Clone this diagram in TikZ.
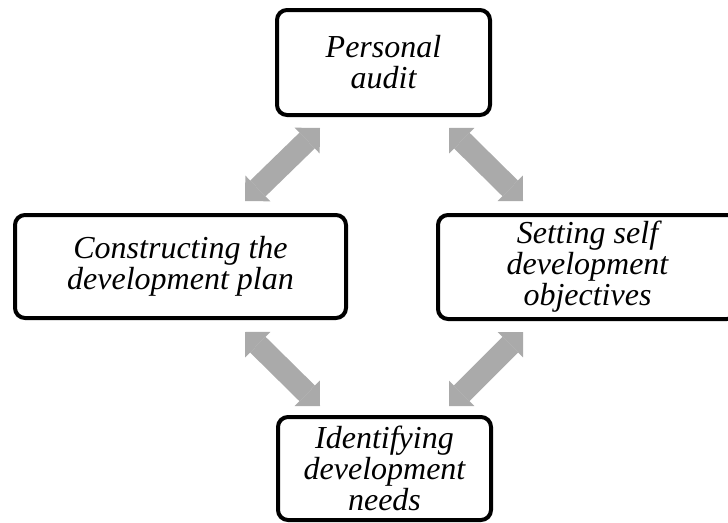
\documentclass[tikz,border=0pt]{standalone}
\usepackage{fontspec}
\setmainfont{Liberation Serif}
\usetikzlibrary{arrows.meta,calc}
\definecolor{arrowgray}{HTML}{AAAAAA}
\tikzset{
  stagebox/.style={draw=black, line width=4pt, rounded corners=10pt, fill=white,
    align=center, inner sep=0pt, font=\fontsize{32}{31}\selectfont\itshape},
  bighead/.tip={Triangle[length=18pt,width=36pt,line width=0pt]},
  link/.style={draw=arrowgray, line width=22pt, {bighead}-{bighead}},
}
\begin{document}
\begin{tikzpicture}[x=1pt,y=-1pt]
\useasboundingbox (0,0) rectangle (728,522);
\clip (0,0) rectangle (728,522);

% the four stages of the cycle
\node[stagebox, minimum width=213pt, minimum height=105pt] (audit) at (383.5,62.5) {Personal\\audit};
\node[stagebox, minimum width=331pt, minimum height=103pt] (plan) at (180.5,266.5) {Constructing the\\development plan};
\node[stagebox, minimum width=299pt, minimum height=104pt] (objectives) at (587.5,267) {Setting self\\development\\objectives};
\node[stagebox, minimum width=213pt, minimum height=103pt] (needs) at (384.5,468.5) {Identifying\\development\\needs};

% end points of the two-way links
\coordinate (a1top) at ($(audit.south west)+(45,11)$);
\coordinate (a1bot) at ($(plan.north east)+(-103,-12)$);
\coordinate (a2top) at ($(audit.south east)+(-43,11)$);
\coordinate (a2bot) at ($(objectives.north west)+(87,-12)$);
\coordinate (a3top) at ($(plan.south east)+(-103,12)$);
\coordinate (a3bot) at ($(needs.north west)+(44,-9)$);
\coordinate (a4top) at ($(objectives.south west)+(87,11)$);
\coordinate (a4bot) at ($(needs.north east)+(-44,-9)$);

\draw[link] (a1bot) -- (a1top);
\draw[link] (a2top) -- (a2bot);
\draw[link] (a3top) -- (a3bot);
\draw[link] (a4top) -- (a4bot);
\end{tikzpicture}
\end{document}
